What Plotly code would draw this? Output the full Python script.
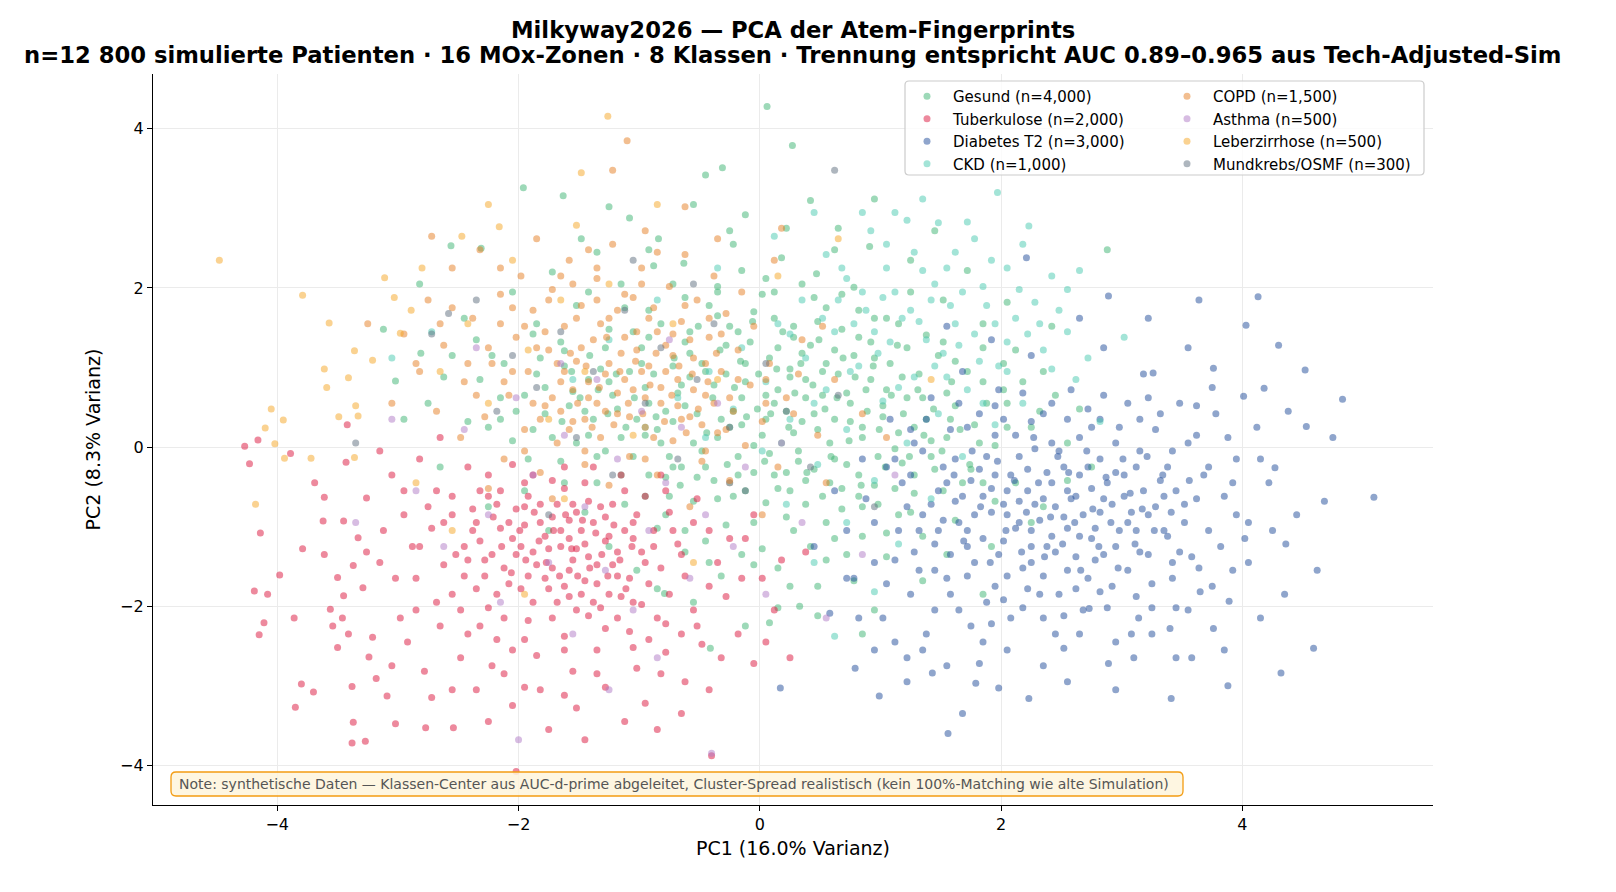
import plotly.graph_objects as go

# ---------------- data ----------------
CLASS_NAMES = ["Gesund (n=4,000)", "Tuberkulose (n=2,000)", "Diabetes T2 (n=3,000)", "CKD (n=1,000)",
               "COPD (n=1,500)", "Asthma (n=500)", "Leberzirrhose (n=500)", "Mundkrebs/OSMF (n=300)"]
CLASS_COLORS = ["#3cb371", "#dc143c", "#1f4b99", "#48c9b0", "#e67e22", "#af7ac5", "#f5a623", "#5d6d7e"]

GESUND = [(0.06,4.28),(0.27,3.79),(-0.31,3.51),(-1.96,3.26),(-1.63,3.16),(2.88,2.48),(-2.31,2.50),(-2.56,2.53),(-2.81,1.18),(-3.02,0.83),(-0.41,-2.53),(0.08,-2.21),(0.33,-2.00),(-0.79,-1.84),
(-0.55,3.05),(-0.12,2.92),(0.42,3.10),(-1.08,2.88),(-0.84,2.62),(0.65,2.75),(-1.35,2.45),(-0.22,2.55),(0.18,2.38),(0.91,2.52),(-1.72,2.20),(-0.63,2.31),(0.47,2.18),(1.25,2.35),(-2.05,1.95),(-1.15,2.05),(-0.35,2.02),(0.12,1.95),(0.78,2.01),(1.52,1.85),(-2.45,1.62),(-1.52,1.78),(-0.92,1.72),(-0.05,1.70),(0.55,1.75),(1.05,1.62),(1.85,1.55),(-1.88,1.42),(-1.25,1.48),(-0.58,1.45),(0.28,1.52),(0.82,1.38),(1.38,1.41),(2.12,1.22),(-2.22,1.15),(-1.62,1.21),(-0.98,1.25),(-0.28,1.28),(0.35,1.18),(0.95,1.12),(1.62,1.08),(2.35,0.95),(-2.62,0.88),(-1.85,0.92),(-1.32,0.98),(-0.72,1.02),(-0.12,1.05),(0.52,0.95),(1.18,0.88),(1.85,0.82),(-2.15,0.62),(-1.55,0.70),(-0.95,0.75),(-0.38,0.78),(0.15,0.72),(0.72,0.68),(1.35,0.62),(2.05,0.55),(2.65,0.48),(-2.42,0.32),(-1.78,0.42),(-1.18,0.48),(-0.62,0.52),(-0.02,0.48),(0.45,0.42),(1.02,0.38),(1.58,0.35),(2.25,0.25),(-2.05,0.08),(-1.42,0.15),(-0.85,0.22),(-0.25,0.25),(0.28,0.18),(0.85,0.12),(1.42,0.08),(1.95,0.02),(-1.65,-0.18),(-1.05,-0.12),(-0.48,-0.05),(0.08,-0.08),(0.62,-0.15),(1.18,-0.20),(1.75,-0.28),(-1.35,-0.45),(-0.78,-0.38),(-0.18,-0.35),(0.38,-0.42),(0.95,-0.48),(1.52,-0.55),(-1.12,-0.72),(-0.55,-0.68),(0.05,-0.70),(0.68,-0.78),(1.25,-0.82),(-0.85,-1.02),(-0.28,-0.98),(0.28,-1.05),(0.85,-1.12),(-0.62,-1.32),(0.02,-1.28),(0.55,-1.42),(1.05,-1.38),(-0.32,-1.62),(0.25,-1.75),(0.78,-1.68),(-1.02,-1.55),(0.48,-2.12),
(-0.45,0.95),(-0.15,0.62),(0.25,0.88),(0.62,1.22),(-0.72,0.32),(-0.35,0.12),(0.05,0.35),(0.38,0.62),(0.75,0.32),(1.05,0.72),(-0.92,0.55),(-0.58,1.18),(-0.18,1.45),(0.15,1.25),(0.48,1.58),(-1.25,0.82),(-1.05,1.45),(-0.82,0.05),(-0.05,0.02),(0.32,-0.18),(0.58,0.05),(1.28,0.25),(1.12,-0.02),(-0.45,-0.25),(-0.22,0.45),(0.12,0.55),(0.92,0.85),(-0.65,0.78),(-1.45,0.45),(-1.62,1.02),(-0.35,1.65),(0.02,1.92),(0.68,1.92),(1.22,1.25),(1.55,0.68),(1.78,0.28),(2.02,1.05),(-0.75,-0.62),(-0.12,-0.55),(0.22,-0.32),(0.52,-0.62),(0.82,-0.35),(1.42,-0.12),(1.62,-0.92),(2.12,-0.45),(-1.88,0.22),(-2.35,1.35),(-2.75,0.55),(-1.45,-0.82),(-1.95,-0.55),(1.92,-1.25),(2.25,-0.95),(1.35,-1.68),(0.95,-2.05),(-0.12,-2.25),(-0.55,-1.95),(2.55,0.05),(2.42,1.52),(1.72,2.22),(0.22,2.75),(-0.88,2.28),(-1.48,2.62),(-2.82,2.05),(-3.12,1.48),(1.45,2.72),(0.95,3.12),(-0.45,3.42),(-1.25,3.02),
(-0.95,0.15),(-0.88,0.92),(-0.82,1.55),(-0.75,-0.12),(-0.68,0.68),(-0.62,1.32),(-0.55,0.05),(-0.52,0.42),(-0.48,1.05),(-0.42,1.78),(-0.38,-0.42),(-0.32,0.35),(-0.28,0.92),(-0.25,1.52),(-0.18,-0.12),(-0.15,0.28),(-0.12,0.82),(-0.08,1.32),(-0.05,-0.32),(0.02,0.15),(0.05,0.65),(0.08,1.12),(0.12,1.62),(0.15,-0.52),(0.18,0.05),(0.22,0.45),(0.25,0.98),(0.28,1.38),(0.32,-0.05),(0.35,0.32),(0.38,0.85),(0.42,1.28),(0.45,-0.28),(0.48,0.22),(0.52,0.65),(0.55,1.05),(0.58,-0.45),(0.62,0.35),(0.65,0.92),(0.68,1.48),(0.72,-0.22),(0.75,0.55),(0.78,1.15),(0.82,-0.62),(0.85,0.25),(0.88,0.72),(0.92,1.32),(0.98,-0.12),(1.02,0.52),(1.08,1.05),(1.12,-0.52),(1.15,0.18),(1.22,0.62),(1.28,-0.35),(1.32,0.92),(1.38,0.35),(1.45,-0.28),(1.48,1.15),(1.55,0.12),(1.62,0.52),(1.68,-0.45),(1.72,0.95),(1.82,0.05),(1.88,0.55),(1.95,-0.68),(2.05,0.25),(2.18,0.82),(-1.02,0.35),(-1.08,0.95),(-1.15,0.12),(-1.22,0.65),(-1.28,1.25),(-1.35,-0.12),(-1.38,0.35),(-1.42,0.85),(-1.52,0.05),(-1.58,0.52),(-1.65,1.32),(-1.72,0.12),(-1.78,0.75),(-1.85,1.55),(-1.92,-0.15),(-2.02,0.45),(-2.12,1.05),(-2.25,0.25),(-2.32,0.85),(-0.92,-0.35),(-0.65,-0.25),(-0.35,-0.65),(-0.05,-0.95),(0.25,-0.55),(0.55,-0.95),(0.85,-0.75),(1.15,-0.85),(0.42,-1.25),(-0.15,-1.35),(0.72,-1.35),(1.35,-1.12),(-0.45,-1.18),(0.15,-1.52),(-0.78,-0.85),(-1.15,-0.35),(-1.62,-0.45),(0.95,1.62),(0.35,2.05),(-0.15,2.22),(-0.62,1.88),(1.25,1.95),(-1.42,1.95),(-0.92,2.48),(0.62,2.48),(-0.25,2.72),(1.85,1.25),(2.45,0.65),(2.75,-0.25),(2.35,-0.75),(2.05,1.82),(-2.55,1.15),(-2.95,0.35),(-2.65,-0.25),(-2.25,-0.75),(-1.75,-1.05),(-1.25,-1.25),(-0.85,-1.78),(0.15,-2.02),(0.85,-2.35),(1.55,-1.35),(1.85,-1.85),
(-0.78,0.45),(-0.71,1.12),(-0.66,-0.48),(-0.58,0.88),(-0.51,1.52),(-0.44,0.18),(-0.39,0.62),(-0.33,1.22),(-0.27,-0.22),(-0.21,0.75),(-0.16,1.08),(-0.11,0.38),(-0.06,1.58),(-0.01,0.92),(0.04,-0.18),(0.09,0.42),(0.14,0.98),(0.19,1.45),(0.24,0.25),(0.29,0.68),(0.34,1.05),(0.39,-0.32),(0.44,0.78),(0.49,1.35),(0.54,0.48),(0.59,-0.12),(0.64,0.62),(0.69,1.12),(0.74,0.08),(0.79,0.88),(0.84,-0.48),(0.89,0.45),(0.94,1.02),(0.99,0.22),(1.04,-0.25),(1.09,0.65),(1.14,1.28),(1.19,0.42),(1.24,-0.12),(1.31,0.72),(1.36,0.15),(1.44,0.48),(1.51,-0.05),(1.59,0.82),(1.66,0.22),(1.74,-0.22),(-0.98,1.05),(-1.04,0.62),(-1.11,0.25),(-1.19,0.92),(-1.26,0.42),(-1.34,0.72),(-1.41,1.15),(-1.49,0.62),(-1.56,0.95),(-1.64,0.32),(-0.86,0.38),(-0.92,1.38),(-0.72,-0.25),(-0.52,-0.38),(-0.22,-0.62),(0.12,-0.35),(0.38,-0.72),(0.68,-0.52),(0.98,-0.72),(1.28,-0.58),(-0.35,1.95),(0.05,2.12),(0.45,1.88),(0.82,1.72),(-0.72,2.05),(-1.12,1.75),(1.15,1.55),(1.52,1.32),(-1.82,1.12),(-1.95,0.65),(-2.15,0.35),(0.22,-0.88),(-0.62,-1.05),(0.62,-1.15),(-0.95,-0.62),(-1.28,-0.05),(1.85,-0.45),(2.02,0.72),(-0.05,-1.48),(0.48,-1.75),(1.05,-1.08),(-0.42,-1.45),(2.32,0.45),(2.55,-0.42)]

TUBERKULOSE = [(-4.27,0.01),(-4.16,0.09),(-4.19,-1.81),(-4.08,-1.85),(-4.23,-0.21),(-3.89,-0.08),(-4.14,-1.08),(-3.98,-1.61),(-4.11,-2.21),(-4.15,-2.36),(-3.86,-2.15),(-3.80,-2.98),(-3.70,-3.08),(-3.85,-3.27),(-3.38,-3.72),(-3.27,-3.70),(-3.37,-3.46),(-3.38,-3.01),(-3.79,-1.28),(-3.69,-0.45),(-3.61,-0.63),(-3.62,-0.93),(-3.45,-0.93),(-3.43,-0.19),(-3.61,-1.35),(-3.50,-1.64),(-3.37,-1.49),(-3.33,-1.14),(-3.45,-1.87),(-3.56,-2.04),(-3.46,-2.15),(-3.54,-2.25),(-3.41,-2.35),(-3.50,-2.52),(-3.26,-0.64),(-3.26,-1.32),(-3.29,-1.77),(-3.21,-2.39),(-3.24,-2.64),(-3.18,-2.91),(-3.09,-3.13),(-3.02,-3.48),(-2.77,-3.53),(-2.54,-3.53),(-2.02,-4.08),
(-3.05,-0.35),(-2.95,-0.85),(-2.88,-1.25),(-3.02,-1.65),(-2.85,-2.05),(-2.92,-2.45),(-2.78,-2.82),(-2.68,-0.55),(-2.72,-1.02),(-2.62,-1.48),(-2.55,-1.85),(-2.65,-2.25),(-2.48,-2.65),(-2.35,-3.05),(-2.42,-0.25),(-2.38,-0.78),(-2.32,-1.18),(-2.28,-1.62),(-2.25,-2.02),(-2.18,-2.42),(-2.12,-2.85),(-2.05,-3.25),(-2.15,-0.55),(-2.08,-0.95),(-2.02,-1.35),(-1.98,-1.78),(-1.92,-2.18),(-1.85,-2.62),(-1.82,-3.05),(-1.75,-3.55),(-1.88,-0.35),(-1.82,-0.72),(-1.78,-1.12),(-1.72,-1.52),(-1.68,-1.95),(-1.62,-2.38),(-1.55,-2.82),(-1.52,-3.28),(-1.62,-0.52),(-1.58,-0.92),(-1.52,-1.28),(-1.45,-1.68),(-1.42,-2.12),(-1.35,-2.55),(-1.28,-3.02),(-1.38,-0.25),(-1.32,-0.75),(-1.25,-1.12),(-1.22,-1.48),(-1.15,-1.88),(-1.08,-2.32),(-1.02,-2.78),(-0.95,-3.22),(-1.12,-0.55),(-1.05,-0.95),(-0.98,-1.32),(-0.92,-1.72),(-0.85,-2.15),(-0.78,-2.58),(-0.82,-0.35),(-0.75,-0.82),(-0.68,-1.22),(-0.62,-1.62),(-0.55,-2.05),(-0.48,-2.48),(-0.42,-3.05),(-0.52,-0.65),(-0.42,-1.05),(-0.35,-1.45),(-0.28,-1.88),(-0.18,-2.35),(-0.25,-0.45),(-0.12,-1.15),(0.02,-1.65),(0.12,-2.05),(-0.05,-2.72),(-0.40,-3.88),(-0.85,-3.55),(-1.45,-3.68),(-2.55,-3.05),
(-2.05,-1.15),(-1.95,-0.98),(-1.88,-1.32),(-1.72,-0.88),(-1.65,-1.25),(-1.58,-1.55),(-1.48,-1.05),(-1.42,-1.38),(-1.35,-1.72),(-2.18,-0.72),(-2.12,-1.52),(-1.92,-1.62),(-1.75,-1.78),(-1.55,-0.72),(-1.28,-0.88),(-1.18,-1.62),(-2.45,-1.25),(-2.38,-1.05),(-2.55,-0.85),(-1.05,-1.15),(-0.88,-1.05),(-1.95,-0.45),(-2.25,-0.35),(-1.62,-0.25),(-2.82,-0.15),(-3.15,-0.05),(-2.65,0.12),(-3.42,0.28),(0.25,-2.65),(0.38,-1.32),
(-2.35,-0.95),(-2.22,-1.35),(-2.15,-1.02),(-2.08,-1.72),(-2.02,-0.78),(-1.98,-1.25),(-1.92,-0.62),(-1.85,-1.48),(-1.82,-0.95),(-1.78,-1.65),(-1.75,-1.28),(-1.68,-0.72),(-1.65,-1.05),(-1.62,-1.75),(-1.58,-1.15),(-1.55,-1.42),(-1.52,-0.82),(-1.48,-1.85),(-1.45,-1.22),(-1.38,-0.95),(-1.35,-1.48),(-1.32,-2.02),(-1.28,-1.18),(-1.25,-1.85),(-1.22,-0.72),(-1.18,-1.32),(-1.12,-1.05),(-1.08,-1.65),(-1.02,-0.85),(-0.98,-1.98),(-0.95,-1.45),(-0.88,-1.25),(-0.82,-1.52),(-0.75,-1.85),(-0.72,-1.05),(-0.65,-2.35),(-2.45,-1.62),(-2.52,-1.35),(-2.62,-0.95),(-2.48,-2.05),(-2.32,-2.25),(-2.12,-2.15),(-1.95,-2.42),(-1.72,-2.15),(-1.52,-2.05),(-1.28,-2.28),(-1.05,-2.52),(-0.82,-2.85),(-0.62,-2.95),(-0.32,-2.65),(-0.15,-1.65),(-0.25,-1.15),(-0.55,-0.95),(-0.78,-0.55),(-1.15,-0.35),(-1.45,-0.45),(-1.72,-0.42),(-2.05,-0.22),(-2.32,-0.55),(-2.75,-0.75),(-2.85,-1.65),(-2.68,-1.95),(-2.98,-2.15),(-3.12,-1.05),(-3.15,-1.45),(-3.05,-2.75),(-2.72,-3.15),(-2.25,-3.45),(-1.95,-3.02),(-1.62,-3.12),(-1.12,-3.45),(-0.65,-3.35),(0.05,-2.45),(0.18,-1.42),(-0.05,-0.85),
(-2.28,-1.42),(-2.21,-0.88),(-2.14,-1.25),(-2.06,-1.58),(-1.99,-1.05),(-1.94,-1.42),(-1.87,-0.82),(-1.83,-1.18),(-1.77,-1.45),(-1.71,-1.05),(-1.66,-1.62),(-1.61,-0.85),(-1.56,-1.28),(-1.51,-1.62),(-1.47,-0.92),(-1.41,-1.52),(-1.36,-1.08),(-1.31,-1.35),(-1.26,-1.62),(-1.21,-0.98),(-1.16,-1.42),(-1.11,-1.78),(-1.06,-1.25),(-2.42,-1.42),(-2.35,-1.78),(-2.18,-1.85),(-1.88,-1.95),(-1.58,-1.88),(-1.38,-1.95),(-1.05,-1.95),(-2.55,-0.62),(-2.25,-0.62),(-1.95,-0.75),(-1.42,-0.68),(-0.95,-0.62),(-0.65,-1.35),(-0.42,-1.75),(-0.78,-2.22),(-1.18,-2.15),(-1.62,-2.55),(-2.05,-2.55),(-2.42,-2.35),(-2.82,-1.25),(-2.95,-0.55),(-2.22,-2.75),(-1.35,-2.85),(-0.92,-2.42),(-0.52,-2.25)]

DIABETES = [(5.09,-0.63),(4.83,0.60),(4.68,-0.68),(4.59,-2.53),(4.53,0.26),(4.52,0.97),(4.36,-1.22),(4.32,-2.84),(4.30,1.28),(4.27,-0.26),(4.18,0.74),(4.13,1.89),(4.03,1.53),(4.01,0.64),(3.89,-1.94),(3.88,-3.00),(3.76,0.99),(3.76,-2.28),(3.64,1.85),(3.64,-1.52),(3.58,-2.65),(3.41,-3.16),(3.40,-2.28),(3.26,0.93),(3.22,1.62),(3.14,-2.15),(3.10,-2.65),(2.89,-2.72),(2.89,1.90),(2.73,-2.03),(2.52,-2.53),(2.23,-3.16),(2.21,2.38),(1.98,-3.03),(1.79,-2.97),(1.68,-3.35),(1.56,-3.60),(1.43,-2.84),(1.22,-2.65),(0.99,-3.13),(0.79,-2.78),(0.58,-2.09),(0.17,-3.03),
(0.45,-1.25),(0.62,-0.55),(0.78,-1.65),(0.85,-0.15),(0.95,-0.95),(1.02,-2.15),(1.08,0.35),(1.12,-1.42),(1.18,-0.45),(1.25,-1.85),(1.28,0.05),(1.35,-0.85),(1.38,-2.35),(1.42,0.62),(1.45,-1.22),(1.52,-0.25),(1.55,-1.65),(1.58,0.22),(1.62,-0.68),(1.65,-2.05),(1.68,0.95),(1.72,-1.05),(1.75,-0.42),(1.78,-1.45),(1.82,0.42),(1.85,-2.45),(1.88,-0.12),(1.92,-0.82),(1.95,-1.75),(1.98,0.72),(2.02,-1.18),(2.05,-0.55),(2.08,-2.15),(2.12,0.15),(2.15,-0.95),(2.18,-1.52),(2.22,-0.28),(2.25,1.15),(2.28,-0.72),(2.32,-1.85),(2.35,0.42),(2.38,-1.25),(2.42,-0.45),(2.45,-2.35),(2.48,-0.05),(2.52,-0.88),(2.55,-1.55),(2.58,0.72),(2.62,-0.62),(2.65,-1.12),(2.68,-2.05),(2.72,-0.25),(2.75,0.25),(2.78,-1.42),(2.82,-0.82),(2.85,1.25),(2.88,-0.45),(2.92,-1.75),(2.95,0.05),(2.98,-1.05),(3.02,-0.62),(3.05,0.55),(3.08,-2.35),(3.12,-0.25),(3.15,-1.32),(3.18,0.92),(3.22,-0.85),(3.25,-1.72),(3.28,0.22),(3.32,-0.42),(3.38,-1.12),(3.42,-0.05),(3.45,-2.02),(3.48,0.55),(3.52,-0.72),(3.58,-1.38),(3.62,0.15),(3.68,-0.35),(3.72,-1.05),(3.78,0.42),(3.85,-0.62),(3.92,-1.55),(3.95,-0.15),(4.05,-0.95),(4.12,0.25),(4.22,-0.45),(4.45,-0.85),(4.62,-1.55),(4.75,0.12),
(1.85,-0.62),(2.05,-0.85),(2.25,-1.05),(2.45,-1.32),(2.65,-0.35),(2.15,-0.12),(1.95,-0.35),(2.35,-0.65),(2.55,-0.55),(2.75,-1.15),(2.85,-0.65),(2.25,-1.45),(1.65,-0.95),(1.72,-1.25),(2.42,0.05),(2.62,-1.78),(2.95,-0.32),(3.05,-0.95),(1.48,-0.55),(1.32,-1.55),(2.02,-1.92),(2.72,0.48),(3.35,-0.62),(2.18,0.68),(1.92,1.35),(1.55,1.52),(2.65,1.62),(3.55,1.25),(3.45,-2.65),(2.35,-2.75),(1.05,-1.72),(0.72,-1.05),(1.22,-2.95),(2.95,-3.05),(3.85,-2.55),(4.35,-1.85),
(1.25,-0.35),(1.35,-0.05),(1.42,-0.72),(1.48,-1.05),(1.55,-0.45),(1.58,-1.35),(1.62,-0.15),(1.68,-0.62),(1.72,-1.62),(1.78,-0.85),(1.82,-0.28),(1.85,-1.15),(1.88,-1.95),(1.92,-0.52),(1.95,0.15),(1.98,-1.35),(2.02,-0.72),(2.05,-1.62),(2.08,-0.35),(2.12,-1.02),(2.15,-0.68),(2.18,-2.02),(2.22,-0.55),(2.25,-1.25),(2.28,-0.02),(2.32,-0.92),(2.35,-1.62),(2.38,-0.32),(2.42,-1.12),(2.45,-0.75),(2.48,-1.85),(2.52,-0.25),(2.55,-1.02),(2.58,-0.65),(2.62,-1.38),(2.65,0.12),(2.68,-0.85),(2.72,-1.65),(2.75,-0.52),(2.78,-1.02),(2.82,-0.15),(2.85,-1.35),(2.88,-2.02),(2.92,-0.72),(2.95,-1.25),(2.98,0.25),(3.02,-0.35),(3.05,-1.55),(3.08,-0.82),(3.12,-1.05),(3.15,-0.05),(3.18,-0.55),(3.22,-1.35),(3.25,-2.02),(3.28,-0.75),(3.32,0.42),(3.35,-1.05),(3.38,-0.25),(3.42,-1.65),(3.45,-0.55),(3.52,-0.95),(3.55,0.05),(3.62,-0.65),(3.65,-1.82),(3.72,-0.25),(3.75,0.75),(3.82,-1.25),(3.88,0.12),(3.95,-0.85),(4.05,-1.45),(4.15,-0.15),(4.25,-1.05),(4.38,0.45),(1.15,-1.05),(1.05,-0.25),(0.95,-1.45),(0.88,-0.65),(1.28,-1.32),(1.38,0.35),(1.65,0.55),(1.95,0.52),(2.25,0.32),(2.55,0.35),(2.85,0.65),(3.15,0.35),(1.45,-2.05),(1.75,-2.25),(2.05,-2.55),(2.35,-2.15),(2.65,-2.35),(2.95,-2.45),(3.25,-2.35),(3.55,-2.05),(1.12,-2.45),(0.82,-2.15),(1.55,-2.75),(2.55,-2.95),(3.75,-1.75),(4.15,-2.15),
(1.52,-0.92),(1.61,-0.35),(1.69,-1.18),(1.76,-0.05),(1.83,-0.75),(1.91,-1.45),(1.97,-0.18),(2.04,-1.05),(2.11,-0.42),(2.17,-1.32),(2.21,-0.82),(2.27,0.12),(2.31,-0.45),(2.36,-1.38),(2.41,-0.88),(2.47,-0.12),(2.51,-1.22),(2.56,-0.32),(2.61,-0.95),(2.66,-1.55),(2.71,-0.05),(2.76,-0.78),(2.81,-1.25),(2.87,-0.38),(2.91,-0.95),(2.97,-1.52),(3.01,-0.15),(3.07,-0.58),(3.11,-1.22),(3.17,-0.78),(3.21,-0.12),(3.27,-1.05),(3.34,-0.35),(3.41,-0.82),(3.48,-1.32),(3.56,-0.42),(1.45,-1.55),(1.58,-1.85),(1.92,-2.22),(2.22,-1.78),(2.52,-2.12),(2.82,-1.82),(3.12,-1.88),(3.42,-1.45),(1.22,-0.75),(1.32,-1.05),(1.12,-0.15),(1.25,0.22),(1.72,0.25),(2.02,0.35),(2.42,0.55),(2.82,0.35),(3.22,0.62),(3.62,0.52),(3.92,-0.45),(4.02,-1.15),(0.72,-1.65),(0.95,-2.55),(1.35,-2.55),(1.82,-2.72)]

CKD = [(1.97,3.20),(1.72,2.83),(2.23,2.78),(1.48,2.82),(1.22,2.85),(0.85,2.95),(1.05,2.55),(1.62,2.45),(2.05,2.25),(2.42,2.15),(0.55,2.42),(1.35,2.22),(1.85,2.02),(2.28,1.82),(0.72,2.12),(1.12,1.95),(1.58,1.78),(2.12,1.62),(2.55,1.45),(0.35,1.85),(0.88,1.72),(1.32,1.58),(1.78,1.42),(2.35,1.22),(0.15,1.55),(0.62,1.45),(1.08,1.32),(1.52,1.18),(1.98,1.02),(2.62,0.85),(-0.15,1.25),(0.38,1.12),(0.82,1.02),(1.28,0.88),(1.72,0.72),(2.18,0.55),(-0.42,0.95),(0.05,0.82),(0.55,0.72),(1.02,0.58),(1.48,0.42),(1.95,0.28),(-0.68,0.62),(-0.22,0.48),(0.25,0.35),(0.72,0.22),(1.22,0.05),(1.68,-0.12),(-0.95,0.25),(-0.45,0.12),(0.02,-0.05),(0.48,-0.22),(0.95,-0.42),(1.42,-0.65),(-0.25,-0.45),(0.22,-0.72),(0.72,-0.95),(1.15,-1.22),(0.45,-1.45),(0.95,-1.82),(-1.25,1.35),(-1.55,0.85),(-0.85,1.85),(-0.35,2.25),(0.12,2.65),(0.45,2.95),(-2.72,1.45),(-3.05,1.12),(2.82,0.32),(3.02,1.38),(0.62,-2.38),
(0.95,1.45),(1.25,1.72),(1.62,1.55),(1.88,1.78),(2.15,1.98),(0.65,1.85),(1.45,2.05),(1.05,2.25),(1.78,2.62),(2.48,1.72),(1.15,0.75),(0.75,0.95),(1.55,0.88),(0.45,0.55),(1.85,0.55),(2.05,0.95),(0.25,1.42),(0.92,2.72),(1.35,3.12),(2.65,2.22),
(0.85,1.95),(1.18,1.62),(1.42,1.85),(1.68,1.95),(1.95,1.55),(2.22,1.42),(0.52,1.62),(0.78,1.55),(1.02,1.88),(1.38,1.35),(1.65,1.28),(2.05,1.32),(2.32,1.55),(1.28,2.45),(1.55,2.25),(1.92,2.35),(0.68,2.25),(0.98,1.18),(1.45,1.02),(1.82,1.08),(2.42,0.98),(2.72,1.12),(2.55,1.98),(2.18,2.55),(1.12,2.95)]

COPD = [(-2.95,1.42),(-2.82,0.95),(-2.75,1.85),(-2.68,0.45),(-2.62,1.28),(-2.55,2.25),(-2.48,0.12),(-2.45,0.82),(-2.38,1.62),(-2.32,2.48),(-2.28,0.38),(-2.22,1.05),(-2.15,1.92),(-2.12,-0.15),(-2.08,0.65),(-2.02,1.38),(-1.98,2.15),(-1.95,0.22),(-1.92,0.95),(-1.88,1.72),(-1.85,2.62),(-1.82,-0.32),(-1.78,0.52),(-1.75,1.22),(-1.72,1.98),(-1.68,0.05),(-1.65,0.82),(-1.62,1.52),(-1.58,2.35),(-1.55,0.32),(-1.52,1.08),(-1.48,1.78),(-1.45,-0.22),(-1.42,0.62),(-1.38,1.35),(-1.35,2.12),(-1.32,0.12),(-1.28,0.92),(-1.25,1.62),(-1.22,2.55),(-1.18,0.42),(-1.15,1.18),(-1.12,1.92),(-1.08,-0.12),(-1.05,0.72),(-1.02,1.45),(-0.98,2.25),(-0.95,0.25),(-0.92,1.02),(-0.88,1.75),(-0.85,-0.35),(-0.82,0.55),(-0.78,1.28),(-0.75,2.02),(-0.72,0.08),(-0.68,0.85),(-0.65,1.58),(-0.62,2.42),(-0.58,0.38),(-0.55,1.12),(-0.52,1.85),(-0.48,-0.18),(-0.45,0.65),(-0.42,1.38),(-0.38,2.15),(-0.35,0.18),(-0.32,0.95),(-0.28,1.68),(-0.25,-0.42),(-0.22,0.45),(-0.18,1.22),(-0.15,1.95),(-0.12,0.02),(-0.08,0.78),(-0.05,1.52),(0.02,0.32),(0.08,1.05),(0.15,-0.25),(0.22,0.62),(0.35,1.35),(0.48,0.15),(0.62,0.85),(0.85,0.42),(-1.55,0.72),(-1.35,0.55),(-1.12,0.85),(-0.95,0.62),(-0.78,0.95),(-1.25,1.05),(-1.02,1.22),(-0.65,0.35),(-1.45,0.35),(-1.68,1.05),(-0.85,1.45),(-1.85,1.25),(-2.05,1.75),(-1.42,2.48),(-0.95,2.72),(-0.35,2.62),(0.12,2.35),(-2.72,2.65),(-3.05,0.55),(-1.22,3.48),(-0.62,3.02),(0.18,2.75),(-2.25,-0.52),(-1.72,-0.65),(-0.58,-0.75),(0.02,-0.85),(-1.25,-0.48),(1.05,0.12),(0.55,-0.45),(-1.10,3.85),
(-1.72,0.62),(-1.62,0.95),(-1.58,0.22),(-1.48,1.25),(-1.42,0.82),(-1.32,1.55),(-1.28,0.45),(-1.18,0.68),(-1.12,1.38),(-1.08,0.38),(-0.98,0.95),(-0.92,1.62),(-0.88,0.12),(-0.82,0.75),(-0.72,1.15),(-0.68,0.52),(-0.58,1.35),(-0.55,0.72),(-0.48,0.28),(-0.45,1.05),(-0.38,0.55),(-0.32,1.42),(-0.28,0.22),(-0.18,0.85),(-2.05,0.95),(-1.95,1.52),(-1.82,0.35),(-1.75,1.85),(-2.25,1.25),(-2.35,0.65),(-1.35,1.85),(-1.05,1.88),(-0.62,1.78),(-1.55,2.05),(-0.85,2.45),(-2.15,2.25),(-2.55,1.75),(-1.95,-0.05),(-1.45,-0.05),(-0.95,-0.15),(-0.45,-0.05),(0.05,0.55),(0.32,0.92),(0.52,1.52),(-2.85,1.05),(-3.25,1.55),
(-1.65,0.45),(-1.57,1.18),(-1.51,0.55),(-1.44,1.02),(-1.39,0.25),(-1.33,0.75),(-1.27,1.38),(-1.21,0.28),(-1.16,0.95),(-1.09,0.55),(-1.03,1.08),(-0.97,0.42),(-0.91,0.78),(-0.86,1.18),(-0.79,0.32),(-0.73,0.65),(-0.67,1.02),(-0.61,0.18),(-0.56,0.92),(-0.51,0.48),(-0.43,0.82),(-0.36,1.18),(-1.88,0.55),(-2.12,0.82),(-1.78,1.45),(-1.52,1.62),(-1.18,1.72),(-0.72,1.42),(-0.42,1.62),(-1.35,2.25),(-0.98,2.05),(-2.42,1.05),(-2.65,1.55),(-1.65,2.15),(-2.15,1.55),(-0.25,0.62),(0.05,0.85),(0.28,0.42)]

ASTHMA = [(-2.00,-3.68),(-0.40,-3.85),(-3.05,0.35),(-2.85,-0.55),(-2.62,-1.25),(-2.45,0.22),(-2.25,-0.85),(-2.15,-1.95),(-2.02,0.62),(-1.88,-0.35),(-1.75,-1.45),(-1.62,0.15),(-1.55,-2.35),(-1.45,-0.75),(-1.35,0.85),(-1.28,-1.55),(-1.18,-0.15),(-1.05,-2.05),(-0.98,0.45),(-0.92,-1.05),(-0.85,-2.65),(-0.78,-0.45),(-0.65,0.25),(-0.58,-1.65),(-0.45,-0.85),(-0.35,0.55),(-0.22,-1.25),(-0.12,-0.25),(0.05,-1.85),(0.18,0.05),(0.35,-0.95),(0.55,-2.15),(-1.65,1.05),(-2.35,1.25),(-0.75,1.35),(0.85,-1.35),(1.12,-0.35),(-3.35,-0.95),(-1.25,-3.05)]

LEBER = [(-4.48,2.35),(-3.79,1.91),(-3.57,1.56),(-3.61,0.98),(-3.59,0.75),(-3.41,0.87),(-3.36,1.21),(-3.21,1.09),(-3.11,2.13),(-3.03,1.88),(-4.10,0.24),(-3.95,0.34),(-4.02,0.04),(-3.94,-0.14),(-3.72,-0.14),(-3.49,0.38),(-3.33,0.39),(-3.35,0.52),(-3.36,-0.13),(-2.89,1.72),(-2.98,1.43),(-2.80,2.25),(-2.47,2.65),(-2.16,2.77),(-1.52,2.79),(-1.26,4.16),(-1.48,3.45),(-4.18,-0.72),(-4.05,0.48),(-2.65,0.95),(-2.42,1.55),(-2.25,0.55),(-2.05,2.35),(-1.92,1.22),(-1.75,0.35),(-1.65,1.85),(-1.45,0.95),(-1.25,2.05),(-1.05,0.15),(-0.85,3.05),(-0.72,1.55),(-0.35,0.85),(0.15,2.15),(0.65,2.62),(1.42,0.85),(-2.85,-0.45),(-2.55,-1.05),(-1.62,-0.65),(-2.25,3.05),(-0.55,-1.45),(-1.95,-1.85)]

MUNDKREBS = [(-2.72,1.42),(-2.58,1.68),(-2.35,1.85),(-2.18,0.45),(-2.05,1.15),(-1.85,0.75),(-1.65,1.45),(-1.52,0.12),(-1.38,0.95),(-1.22,-0.35),(-1.12,1.72),(-0.95,0.55),(-0.82,1.25),(-0.68,-0.15),(-0.52,0.85),(-0.38,1.55),(-0.25,0.25),(-0.12,-0.55),(0.05,1.05),(0.22,0.45),(0.42,-0.25),(0.65,0.65),(0.62,3.48),(-3.35,0.05),(-1.05,2.35),(-1.75,-0.85),(0.95,-0.75),(-0.55,2.05)]

CLASS_POINTS = [GESUND, TUBERKULOSE, DIABETES, CKD, COPD, ASTHMA, LEBER, MUNDKREBS]

TITLE_LINE1 = "Milkyway2026 — PCA der Atem-Fingerprints"
TITLE_LINE2 = "n=12 800 simulierte Patienten · 16 MOx-Zonen · 8 Klassen · Trennung entspricht AUC 0.89–0.965 aus Tech-Adjusted-Sim"
NOTE = "Note: synthetische Daten — Klassen-Center aus AUC-d-prime abgeleitet, Cluster-Spread realistisch (kein 100%-Matching wie alte Simulation)"
X_TITLE = "PC1 (16.0% Varianz)"
Y_TITLE = "PC2 (8.3% Varianz)"
TICKS = [-4, -2, 0, 2, 4]

# ---------------- figure ----------------
W, H = 1616, 892
ML, MR, MT, MB = 145, 191, 66, 95
PW, PH = W - ML - MR, H - MT - MB
FONT = "DejaVu Sans"

def px_to_paper(xp, yp):
    return (xp - ML) / PW, (H - MB - yp) / PH

def rounded_path(x0p, y0p, x1p, y1p, r=5):
    x0, y0 = px_to_paper(x0p, y1p)
    x1, y1 = px_to_paper(x1p, y0p)
    rx, ry = r / PW, r / PH
    return (f"M {x0+rx},{y0} L {x1-rx},{y0} Q {x1},{y0} {x1},{y0+ry} L {x1},{y1-ry} "
            f"Q {x1},{y1} {x1-rx},{y1} L {x0+rx},{y1} Q {x0},{y1} {x0},{y1-ry} "
            f"L {x0},{y0+ry} Q {x0},{y0} {x0+rx},{y0} Z")

fig = go.Figure()
for i, (name, color, pts) in enumerate(zip(CLASS_NAMES, CLASS_COLORS, CLASS_POINTS)):
    fig.add_trace(go.Scatter(
        x=[p[0] for p in pts], y=[p[1] for p in pts],
        mode="markers", name=name,
        marker=dict(color=color, size=7, opacity=0.5, line=dict(width=0)),
        legend="legend" if i < 4 else "legend2",
    ))

lx1, ly = px_to_paper(893, 72)
lx2, _ = px_to_paper(1153, 72)
legend_common = dict(yanchor="top", xanchor="left", y=ly, bgcolor="rgba(0,0,0,0)",
                     borderwidth=0, font=dict(family=FONT, size=15, color="#000"),
                     tracegroupgap=0, itemwidth=42)

cx = px_to_paper(ML + PW / 2, 0)[0]
fig.update_layout(
    width=W, height=H,
    margin=dict(l=ML, r=MR, t=MT, b=MB),
    paper_bgcolor="white", plot_bgcolor="white",
    font=dict(family=FONT, color="#000"),
    legend=dict(x=lx1, **legend_common),
    legend2=dict(x=lx2, **legend_common),
    xaxis=dict(range=[-5.03, 5.58], tickvals=TICKS, showgrid=True, gridcolor="#ebebeb", gridwidth=1,
               zeroline=False, showline=True, linecolor="#000", linewidth=1.2, mirror=False,
               ticks="outside", ticklen=5, tickcolor="#000", tickwidth=1.2,
               tickfont=dict(family=FONT, size=16, color="#000"),
               title=dict(text=X_TITLE, font=dict(family=FONT, size=19, color="#000"), standoff=8)),
    yaxis=dict(range=[-4.5, 4.69], tickvals=TICKS, showgrid=True, gridcolor="#ebebeb", gridwidth=1,
               zeroline=False, showline=True, linecolor="#000", linewidth=1.2, mirror=False,
               ticks="outside", ticklen=5, tickcolor="#000", tickwidth=1.2,
               tickfont=dict(family=FONT, size=16, color="#000"),
               title=dict(text=Y_TITLE, font=dict(family=FONT, size=19, color="#000"), standoff=14)),
    shapes=[
        dict(type="path", xref="paper", yref="paper", path=rounded_path(897, 73, 1416, 167, 4),
             line=dict(color="#cccccc", width=1.2), fillcolor="rgba(255,255,255,0.8)", layer="above"),
        dict(type="path", xref="paper", yref="paper", path=rounded_path(163, 764, 1175, 788, 5),
             line=dict(color="#f39c12", width=1.3), fillcolor="rgba(254,245,220,0.85)", layer="above"),
    ],
    annotations=[
        dict(text=f"<b>{TITLE_LINE1}</b>", xref="paper", yref="paper", x=cx, y=px_to_paper(0, 22)[1],
             xanchor="center", yanchor="middle", showarrow=False,
             font=dict(family=FONT, size=22.7, color="#000")),
        dict(text=f"<b>{TITLE_LINE2}</b>", xref="paper", yref="paper", x=cx, y=px_to_paper(0, 47)[1],
             xanchor="center", yanchor="middle", showarrow=False,
             font=dict(family=FONT, size=22.7, color="#000")),
        dict(text=NOTE, xref="paper", yref="paper", x=px_to_paper(169, 776)[0], y=px_to_paper(169, 776)[1],
             xanchor="left", yanchor="middle", showarrow=False,
             font=dict(family=FONT, size=14, color="#555555")),
    ],
)

fig.write_html("out.html")
